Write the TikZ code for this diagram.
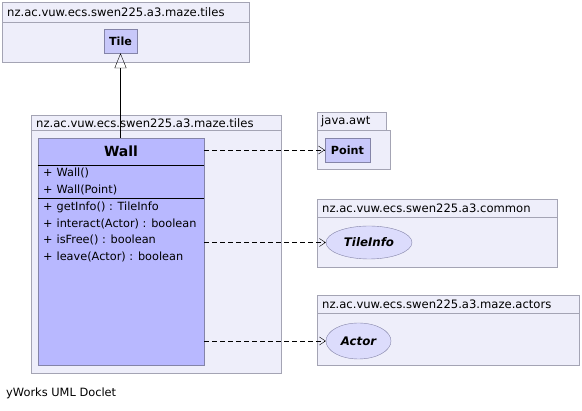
\documentclass[tikz,border=0pt]{standalone}
\usepackage{fontspec}
\setmainfont{DejaVu Sans}
\usepackage{tikz}
\usetikzlibrary{arrows.meta}
\usetikzlibrary{shapes.geometric}
\usetikzlibrary{positioning}
\definecolor{pkgfill}{HTML}{EEEEFA}
\definecolor{pkgline}{HTML}{A4A4B4}
\definecolor{clsfill}{HTML}{B8B8FF}
\definecolor{clsline}{HTML}{8484A8}
\definecolor{reffill}{HTML}{C8C8FA}
\definecolor{ifcfill}{HTML}{DCDCFC}
\tikzset{
  pkg/.style={fill=pkgfill,draw=pkgline},
  pkgname/.style={anchor=west,inner sep=0pt,font=\fontsize{11.6}{13}\selectfont},
  cls/.style={draw=clsline,fill=clsfill,inner sep=0pt},
  refcls/.style={draw=clsline,fill=reffill,inner sep=0pt,font=\bfseries\fontsize{11.2}{13}\selectfont},
  ifc/.style={ellipse,draw=clsline,fill=ifcfill,inner sep=0pt,font=\bfseries\itshape\fontsize{11.8}{13}\selectfont},
  member/.style={anchor=west,inner sep=0pt,font=\fontsize{11.3}{13}\selectfont},
  dep/.style={dash pattern=on 5pt off 3pt,-{Straight Barb[length=6pt,width=8pt]}},
  ext/.style={-{Triangle[open,length=15pt,width=12pt]}}
}

\begin{document}
\begin{tikzpicture}[x=1pt,y=-1pt]
  \useasboundingbox[fill=white] (0,0) rectangle (582,411);

  \foreach \l/\t/\r/\b/\h/\n [count=\i] in {
      2/2/249/62/20/nz.ac.vuw.ecs.swen225.a3.maze.tiles,
      31/115/281/373/15/nz.ac.vuw.ecs.swen225.a3.maze.tiles,
      317/199/557/267/18/nz.ac.vuw.ecs.swen225.a3.common,
      317/295/579/365/18/nz.ac.vuw.ecs.swen225.a3.maze.actors} {
    \filldraw[pkg] (\l,\t) rectangle (\r,\b);
    \draw[pkgline] (\l,\t+\h) -- (\r,\t+\h);
    \node[pkgname] (pkg\i) at (\l+5,\t+\h/2+0.5) {\n};
  }

  \filldraw[pkg] (317,112) rectangle (386,130);
  \filldraw[pkg] (317,130) rectangle (390,169);
  \node[pkgname] (pkgawt) at (321,121.5) {java.awt};

  \node[refcls,minimum width=33pt,minimum height=24pt] (tile) at (120.5,41) {Tile};
  \node[refcls,minimum width=45pt,minimum height=24pt] (point) at (347.5,150) {Point};
  \node[ifc,minimum width=86pt,minimum height=33pt] (tileinfo) at (369,242.5) {TileInfo};
  \node[ifc,minimum width=65pt,minimum height=36pt] (actor) at (358.5,341) {Actor};

  \node[cls,minimum width=166pt,minimum height=227pt,anchor=north] (wall) at (121,138) {};
  \node[font=\bfseries\fontsize{14}{16}\selectfont,inner sep=0pt] (walltitle) at (121,151.5) {Wall};
  \draw (wall.west |- 0,165) -- (wall.east |- 0,165);
  \draw (wall.west |- 0,198) -- (wall.east |- 0,198);
  \foreach \y/\m [count=\i] in {173/Wall(), 190/Wall(Point), 207/getInfo() : TileInfo,
      223.5/interact(Actor) : boolean, 240/isFree() : boolean, 256.5/leave(Actor) : boolean} {
    \node[member] (m\i) at (43,\y) {+\hspace{4pt}\m};
  }

  \draw[ext] (wall.north -| tile.south) -- (tile.south);
  \draw[dep] (wall.east |- point.west) -- (point.west);
  \draw[dep] (wall.east |- tileinfo.west) -- (tileinfo.west);
  \draw[dep] (wall.east |- actor.west) -- (actor.west);

  \node[anchor=west,inner sep=0pt,font=\fontsize{11.4}{13}\selectfont] (doclet) at (6,393.5) {yWorks UML Doclet};
\end{tikzpicture}
\end{document}
